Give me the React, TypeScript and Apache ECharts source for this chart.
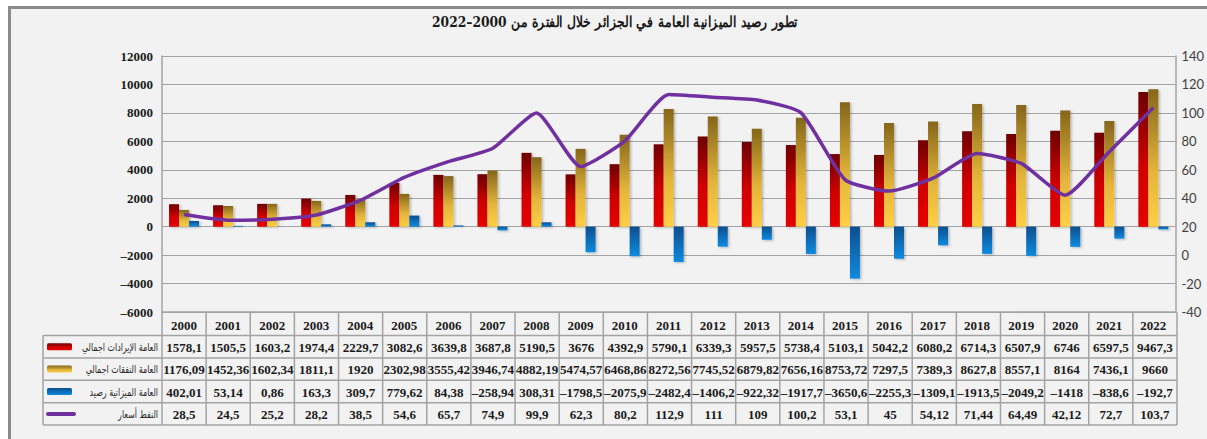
import React, { useEffect, useRef } from "react";
import * as echarts from "echarts";

const years = ["2000","2001","2002","2003","2004","2005","2006","2007","2008","2009","2010","2011","2012","2013","2014","2015","2016","2017","2018","2019","2020","2021","2022"];
const revenues = [1578.1,1505.5,1603.2,1974.4,2229.7,3082.6,3639.8,3687.8,5190.5,3676,4392.9,5790.1,6339.3,5957.5,5738.4,5103.1,5042.2,6080.2,6714.3,6507.9,6746,6597.5,9467.3];
const expenses = [1176.09,1452.36,1602.34,1811.1,1920,2302.98,3555.42,3946.74,4882.19,5474.57,6468.86,8272.56,7745.52,6879.82,7656.16,8753.72,7297.5,7389.3,8627.8,8557.1,8164,7436.1,9660];
const balance = [402.01,53.14,0.86,163.3,309.7,779.62,84.38,-258.94,308.31,-1798.5,-2075.9,-2482.4,-1406.2,-922.32,-1917.7,-3650.6,-2255.3,-1309.1,-1913.5,-2049.2,-1418,-838.6,-192.7];
const oilPrice = [28.5,24.5,25.2,28.2,38.5,54.6,65.7,74.9,99.9,62.3,80.2,112.9,111,109,100.2,53.1,45,54.12,71.44,64.49,42.12,72.7,103.7];

const seriesNames = ["العامة الإيرادات اجمالي", "العامة النفقات اجمالي", "العامة الميزانية رصيد", "النفط أسعار"];
const titleText = "تطور رصيد الميزانية العامة في الجزائر خلال الفترة من 2000–2022";

const fmt = (v: number) => String(v).replace(".", ",").replace("-", "–");

const G_LEFT = 162;
const G_TOP = 56;
const G_W = 1015;
const G_H = 256;
const ROW_TOP = 335.5;
const ROW_H = 22.4;
const LEG_LEFT = 43;

const grad = (c0: string, c1: string) =>
  new echarts.graphic.LinearGradient(0, 0, 0, 1, [
    { offset: 0, color: c0 },
    { offset: 1, color: c1 },
  ]);

export default function App() {
  const ref = useRef<HTMLDivElement>(null);
  useEffect(() => {
    if (!ref.current) return;
    const chart = echarts.init(ref.current, null, { renderer: "svg" });
    const cw = G_W / years.length;
    const gBottom = G_TOP + G_H;
    const lineColor = "#a3a3a3";
    const tableFont = "bold 13px 'Liberation Serif', serif";

    const redFill = () => new echarts.graphic.LinearGradient(0, 0, 0, 1, [
      { offset: 0, color: "#6e0000" }, { offset: 0.55, color: "#d00000" }, { offset: 1, color: "#e60000" }]);
    const yellowFill = () => new echarts.graphic.LinearGradient(0, 0, 0, 1, [
      { offset: 0, color: "#85661a" }, { offset: 0.6, color: "#e3b53a" }, { offset: 1, color: "#ffcf45" }]);
    const blueFill = () => grad("#0d4f8e", "#0a8ae0");

    const graphics: any[] = [];
    graphics.push({
      type: "rect", z: -10, silent: true,
      shape: { x: 9.5, y: 7.5, width: 1300, height: 600 },
      style: { fill: "#f2f2f2", stroke: "#8a8a8a", lineWidth: 3 },
    });
    graphics.push({
      type: "text", x: 615, y: 22, scaleX: 0.82,
      style: { text: titleText, font: "bold 15px 'DejaVu Serif', serif", fill: "#1a1a1a", textAlign: "center", textVerticalAlign: "middle" },
    });
    const rowsY = [ROW_TOP, ROW_TOP + ROW_H, ROW_TOP + 2 * ROW_H, ROW_TOP + 3 * ROW_H, ROW_TOP + 4 * ROW_H];
    rowsY.forEach((y) => {
      graphics.push({ type: "line", shape: { x1: LEG_LEFT, y1: y, x2: G_LEFT + G_W, y2: y }, style: { stroke: lineColor, lineWidth: 1.5 } });
    });
    for (let i = 0; i <= years.length; i++) {
      const x = G_LEFT + i * cw;
      graphics.push({ type: "line", shape: { x1: x, y1: gBottom, x2: x, y2: rowsY[4] }, style: { stroke: lineColor, lineWidth: 1.5 } });
    }
    graphics.push({ type: "line", shape: { x1: LEG_LEFT, y1: ROW_TOP, x2: LEG_LEFT, y2: rowsY[4] }, style: { stroke: lineColor, lineWidth: 1.5 } });

    const rows = [revenues, expenses, balance, oilPrice];
    rows.forEach((arr, r) => {
      const cy = ROW_TOP + (r + 0.5) * ROW_H;
      arr.forEach((v, i) => {
        graphics.push({
          type: "text", x: G_LEFT + (i + 0.5) * cw, y: cy + 0.5,
          style: { text: fmt(v), font: tableFont, fill: "#1a1a1a", textAlign: "center", textVerticalAlign: "middle" },
        });
      });
      if (r < 3) {
        const fills = [redFill(), yellowFill(), blueFill()];
        graphics.push({
          type: "rect", shape: { x: 47, y: cy - 3.5, width: 25, height: 7, r: 1.5 },
          style: { fill: fills[r] },
        });
      } else {
        graphics.push({
          type: "line", shape: { x1: 48, y1: cy, x2: 74, y2: cy },
          style: { stroke: "#7030a0", lineWidth: 4, lineCap: "round" },
        });
      }
      graphics.push({
        type: "text", x: 158, y: cy, scaleX: 0.72,
        style: { text: seriesNames[r], font: "11px 'DejaVu Sans', sans-serif", fill: "#2a2a2a", textAlign: "right", textVerticalAlign: "middle" },
      });
    });

    const barShadow = { shadowColor: "rgba(0,0,0,0.25)", shadowBlur: 2, shadowOffsetX: 1.5, shadowOffsetY: 1 };

    chart.setOption({
      animation: false,
      grid: { left: G_LEFT, top: G_TOP, width: G_W, height: G_H, containLabel: false },
      xAxis: {
        type: "category",
        data: years,
        position: "bottom",
        axisLine: { onZero: false, lineStyle: { color: lineColor, width: 1.5 } },
        axisTick: { show: false },
        axisLabel: { margin: 7, fontFamily: "'Liberation Serif', serif", fontWeight: "bold", fontSize: 13, color: "#1a1a1a" },
      },
      yAxis: [
        {
          type: "value", min: -6000, max: 12000, interval: 2000,
          axisLine: { show: true, lineStyle: { color: lineColor, width: 1.5 } },
          axisTick: { show: false },
          splitLine: { lineStyle: { color: lineColor, width: 1.2 } },
          axisLabel: { margin: 9, fontFamily: "'Liberation Serif', serif", fontWeight: "bold", fontSize: 13, color: "#1a1a1a",
            formatter: (v: number) => fmt(v) },
        },
        {
          type: "value", min: -40, max: 140, interval: 20, position: "right",
          axisLine: { show: true, lineStyle: { color: lineColor, width: 1.5 } },
          axisTick: { show: false },
          splitLine: { show: false },
          axisLabel: { margin: 6, fontFamily: "Lato, sans-serif", fontSize: 13, color: "#404040" },
        },
      ],
      series: [
        { name: seriesNames[0], type: "bar", data: revenues, barWidth: 10, barGap: "0%", itemStyle: { color: redFill(), ...barShadow } },
        { name: seriesNames[1], type: "bar", data: expenses, barWidth: 10, barGap: "0%", itemStyle: { color: yellowFill(), ...barShadow } },
        { name: seriesNames[2], type: "bar", data: balance, barWidth: 10, barGap: "0%", itemStyle: { color: blueFill(), ...barShadow } },
        { name: seriesNames[3], type: "line", yAxisIndex: 1, data: oilPrice, smooth: 0.18, showSymbol: false, symbol: "none",
          lineStyle: { color: "#7030a0", width: 3.5 }, z: 5 },
      ],
      graphic: graphics,
    });
    return () => chart.dispose();
  }, []);
  return <div ref={ref} style={{ position: "absolute", left: 0, top: 0, width: 1207, height: 439, background: "#fff" }} />;
}
